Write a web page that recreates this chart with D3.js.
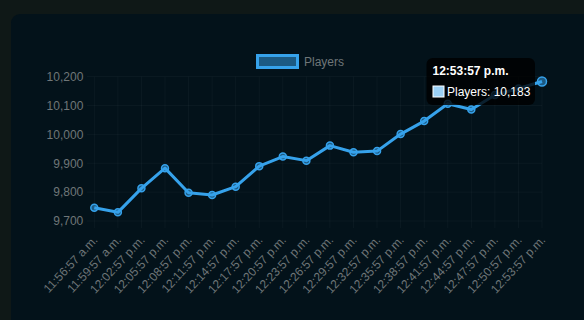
<!DOCTYPE html>
<html>
<head>
<meta charset="utf-8">
<script src="https://cdn.jsdelivr.net/npm/d3@7"></script>
<style>
  html, body { margin: 0; padding: 0; background: #0f1817; }
  svg { display: block; font-family: "Liberation Sans", Arial, Helvetica, sans-serif; }
</style>
</head>
<body>
<svg id="chart" width="584" height="320"></svg>
<script>
const timeLabels = ["11:56:57 a.m.", "11:59:57 a.m.", "12:02:57 p.m.", "12:05:57 p.m.", "12:08:57 p.m.",
  "12:11:57 p.m.", "12:14:57 p.m.", "12:17:57 p.m.", "12:20:57 p.m.", "12:23:57 p.m.",
  "12:26:57 p.m.", "12:29:57 p.m.", "12:32:57 p.m.", "12:35:57 p.m.", "12:38:57 p.m.",
  "12:41:57 p.m.", "12:44:57 p.m.", "12:47:57 p.m.", "12:50:57 p.m.", "12:53:57 p.m."];
const players = [9746, 9730, 9813, 9883, 9798, 9790, 9819, 9890, 9923, 9909,
  9961, 9938, 9942, 10001, 10046, 10106, 10086, 10136, 10159, 10183];
const yTicks = [9700, 9800, 9900, 10000, 10100, 10200];
const seriesName = "Players";
const hoverIndex = 19;

(function () {
const svg = d3.select("#chart");
const blue = "#36a2eb";
const blueFill = "rgba(54,162,235,0.5)";
const textGray = "#6f7678";

// card background
svg.append("rect").attr("x", 0).attr("y", 0).attr("width", 584).attr("height", 320).attr("fill", "#0f1817");
svg.append("rect").attr("x", 11).attr("y", 14).attr("width", 600).attr("height", 340).attr("rx", 9).attr("fill", "#03121a");

const pLeft = 94.3, pRight = 542, pTop = 76.6, pBottom = 221;
const x = d3.scalePoint().domain(timeLabels).range([pLeft, pRight]);
const y = d3.scaleLinear().domain([9700, 10200]).range([pBottom, pTop]);

// grid
const grid = svg.append("g");
grid.selectAll(".h").data(yTicks).join("line")
  .attr("x1", 87).attr("x2", pRight).attr("y1", d => y(d)).attr("y2", d => y(d))
  .attr("stroke", "rgba(255,255,255,0.035)").attr("stroke-width", 1);
grid.selectAll(".v").data(timeLabels).join("line")
  .attr("x1", d => x(d)).attr("x2", d => x(d)).attr("y1", pTop).attr("y2", pBottom + 7)
  .attr("stroke", "rgba(255,255,255,0.035)").attr("stroke-width", 1);

// y axis
const yAxis = svg.append("g").attr("transform", `translate(${pLeft},0)`)
  .call(d3.axisLeft(y).tickValues(yTicks).tickFormat(d3.format(",")).tickSize(0).tickPadding(11));
yAxis.select(".domain").remove();
yAxis.selectAll("text").attr("fill", textGray).attr("font-size", 12).attr("font-family", "Liberation Sans, Arial, sans-serif");

// x axis
const xAxis = svg.append("g").attr("transform", `translate(0,${pBottom})`)
  .call(d3.axisBottom(x).tickSize(0));
xAxis.select(".domain").remove();
xAxis.selectAll("text")
  .attr("fill", textGray).attr("font-size", 12).attr("font-family", "Liberation Sans, Arial, sans-serif")
  .attr("text-anchor", "end").attr("y", 0).attr("dy", 0)
  .attr("transform", "translate(3.5,19.5) rotate(-47)");

// line
const pts = timeLabels.map((t, i) => [x(t), y(players[i])]);
svg.append("path").attr("d", d3.line()(pts)).attr("fill", "none")
  .attr("stroke", blue).attr("stroke-width", 3).attr("stroke-linejoin", "round");
svg.selectAll(".pt").data(pts).join("circle")
  .attr("cx", d => d[0]).attr("cy", d => d[1])
  .attr("r", (d, i) => i === hoverIndex ? 4.5 : 3.5)
  .attr("fill", blueFill).attr("stroke", blue).attr("stroke-width", 1.5);

// legend
svg.append("rect").attr("x", 257.5).attr("y", 55.5).attr("width", 40).attr("height", 12)
  .attr("fill", blueFill).attr("stroke", blue).attr("stroke-width", 3);
svg.append("text").attr("x", 304).attr("y", 65.5).attr("fill", textGray).attr("font-size", 12).text(seriesName);

// tooltip
const hx = pts[hoverIndex][0], hy = pts[hoverIndex][1];
const tw = 108.5, th = 47;
const tx = hx - 7 - tw, ty = hy - th / 2;
svg.append("rect").attr("x", tx).attr("y", ty).attr("width", tw).attr("height", th).attr("rx", 6)
  .attr("fill", "rgba(0,0,0,0.8)");
svg.append("text").attr("x", tx + 6).attr("y", ty + 17).attr("fill", "#fff")
  .attr("font-size", 12).attr("font-weight", "bold").text(timeLabels[hoverIndex]);
svg.append("rect").attr("x", tx + 6.5).attr("y", ty + 28).attr("width", 11).attr("height", 11)
  .attr("fill", "#9bd0f5").attr("stroke", "#fff").attr("stroke-width", 1);
svg.append("text").attr("x", tx + 20.5).attr("y", ty + 38).attr("fill", "#fff")
  .attr("font-size", 12).text(`${seriesName}: ${d3.format(",")(players[hoverIndex])}`);
})();
</script>
</body>
</html>
